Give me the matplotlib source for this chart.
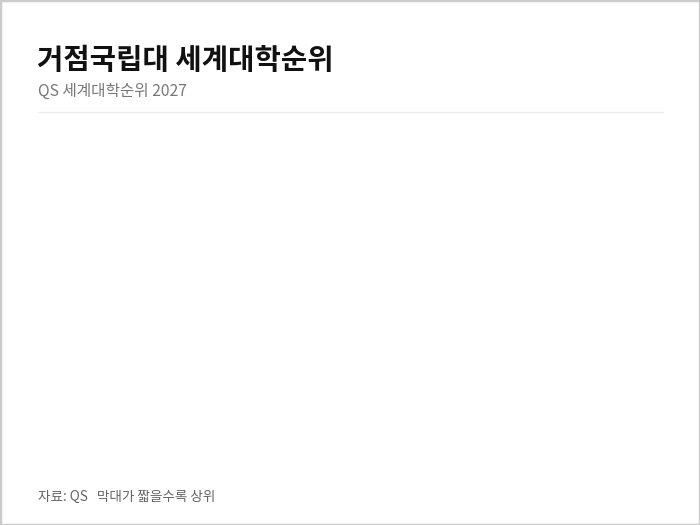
import matplotlib
matplotlib.use("Agg")
import matplotlib.pyplot as plt
from matplotlib.patches import Rectangle
from matplotlib.lines import Line2D

plt.rcParams['font.family'] = ['Noto Sans CJK KR', 'DejaVu Sans']

title = "거점국립대 세계대학순위"
subtitle = "QS 세계대학순위 2027"
footer = "자료: QS   막대가 짧을수록 상위"

# 막대는 아직 그려지지 않은 상태 (빈 차트)
universities = []
ranks = []

W, H = 700, 525
fig = plt.figure(figsize=(7, 5.25), dpi=100)
fig.patch.set_facecolor('white')

ax = fig.add_axes([38 / W, 1 - 470 / H, 625 / W, 340 / H])
ax.barh(universities, ranks, color='#ffffff')
ax.axis('off')

fig.text(37 / W, 1 - 60 / H, title, fontsize=20.6, fontweight='black',
         color='#111111', va='center', ha='left')
fig.text(38 / W, 1 - 91 / H, subtitle, fontsize=11.3, color='#777777',
         va='center', ha='left')
fig.add_artist(Line2D([38 / W, 663 / W], [1 - 112 / H, 1 - 112 / H],
                      transform=fig.transFigure, color='#eeeeee', lw=1))
fig.text(38 / W, 1 - 497 / H, footer, fontsize=9.8, color='#666666',
         va='center', ha='left')

# 바깥 테두리
fig.add_artist(Rectangle((0, 0), 1, 1, transform=fig.transFigure,
                         fill=False, edgecolor='#cccccc', lw=2.5))

fig.savefig('out.png', dpi=100)
